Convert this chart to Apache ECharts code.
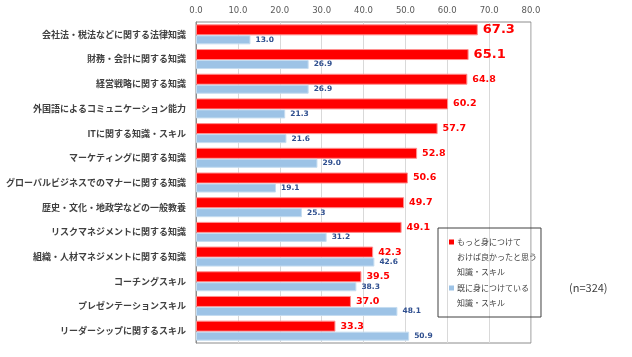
<!DOCTYPE html>
<html><head><meta charset="utf-8">
<script src="https://cdn.jsdelivr.net/npm/echarts@6/dist/echarts.min.js"></script>
<style>html,body{margin:0;padding:0;background:#fff}#c{width:632px;height:357px}</style>
</head><body><div id="c"></div>
<script>
const categories = [
  '会社法・税法などに関する法律知識',
  '財務・会計に関する知識',
  '経営戦略に関する知識',
  '外国語によるコミュニケーション能力',
  'ITに関する知識・スキル',
  'マーケティングに関する知識',
  'グローバルビジネスでのマナーに関する知識',
  '歴史・文化・地政学などの一般教養',
  'リスクマネジメントに関する知識',
  '組織・人材マネジメントに関する知識',
  'コーチングスキル',
  'プレゼンテーションスキル',
  'リーダーシップに関するスキル'
];
const wishValues = [67.3, 65.1, 64.8, 60.2, 57.7, 52.8, 50.6, 49.7, 49.1, 42.3, 39.5, 37.0, 33.3];
const haveValues = [13.0, 26.9, 26.9, 21.3, 21.6, 29.0, 19.1, 25.3, 31.2, 42.6, 38.3, 48.1, 50.9];
const seriesNames = ['もっと身につけて\nおけば良かったと思う\n知識・スキル', '既に身につけている\n知識・スキル'];
const noteText = '(n=324)';

const chart = echarts.init(document.getElementById('c'));
const CJK = '"Noto Sans CJK JP", sans-serif';
chart.setOption({
  animation: false,
  backgroundColor: '#fff',
  grid: { left: 196, right: 101, top: 22, bottom: 14, show: true, borderColor: '#8c8c8c', borderWidth: 1, containLabel: false, outerBoundsMode: 'none' },
  xAxis: {
    type: 'value', position: 'top', min: 0, max: 80, interval: 10,
    axisLine: { show: false }, axisTick: { show: false },
    splitLine: { lineStyle: { color: '#d9d9d9', width: 1 } },
    axisLabel: { formatter: v => v.toFixed(1), fontFamily: 'DejaVu Sans', fontSize: 8.5, color: '#595959', margin: 7 }
  },
  yAxis: {
    type: 'category', data: categories, inverse: true,
    axisLine: { lineStyle: { color: '#8c8c8c' } }, axisTick: { show: false },
    axisLabel: { fontFamily: CJK, fontSize: 9, fontWeight: 'bold', color: '#404040', margin: 10 }
  },
  legend: {
    orient: 'vertical', left: 438, top: 228, width: 90, height: 88,
    borderColor: '#404040', borderWidth: 1, padding: [8, 4, 8, 6],
    itemGap: 4, itemWidth: 0, itemHeight: 0, icon: 'none',
    data: seriesNames,
    formatter: function (name) {
      const lines = name.split('\n');
      const key = name === seriesNames[0] ? 'r' : 'b';
      return lines.map((l, i) => (i === 0 ? '{' + key + '|}' : '{sp|}') + '{t|' + l + '}').join('\n');
    },
    textStyle: {
      rich: {
        r: { width: 5, height: 5, backgroundColor: '#ff0000' },
        b: { width: 5, height: 5, backgroundColor: '#9dc3e6' },
        sp: { width: 5, height: 5 },
        t: { fontFamily: CJK, fontSize: 8, color: '#404040', padding: [0, 0, 0, 3], lineHeight: 15 }
      }
    }
  },
  graphic: [{ type: 'text', left: 569, top: 282, style: { text: noteText, fontFamily: CJK, fontSize: 11, fill: '#404040' } }],
  series: [
    {
      name: seriesNames[0], type: 'bar', barWidth: 11, barGap: '0%', barCategoryGap: '20%',
      data: wishValues.map((v, i) => i < 2 ? { value: v, label: { fontSize: 13 } } : v),
      itemStyle: { color: '#ff0000', borderColor: '#ff8f8f', borderWidth: 1 },
      label: {
        show: true, position: 'right', distance: 5, fontFamily: 'DejaVu Sans', fontWeight: 'bold', color: '#ff0000',
        formatter: p => p.value.toFixed(1),
        fontSize: 9.5
      }
    },
    {
      name: seriesNames[1], type: 'bar', data: haveValues, barWidth: 9,
      itemStyle: { color: '#9dc3e6', borderColor: '#c5dcf0', borderWidth: 1 },
      label: {
        show: true, position: 'right', distance: 5, fontFamily: 'DejaVu Sans', fontWeight: 'bold', color: '#2f4f8f',
        formatter: p => p.value.toFixed(1), fontSize: 7.5
      }
    }
  ]
});
</script></body></html>
